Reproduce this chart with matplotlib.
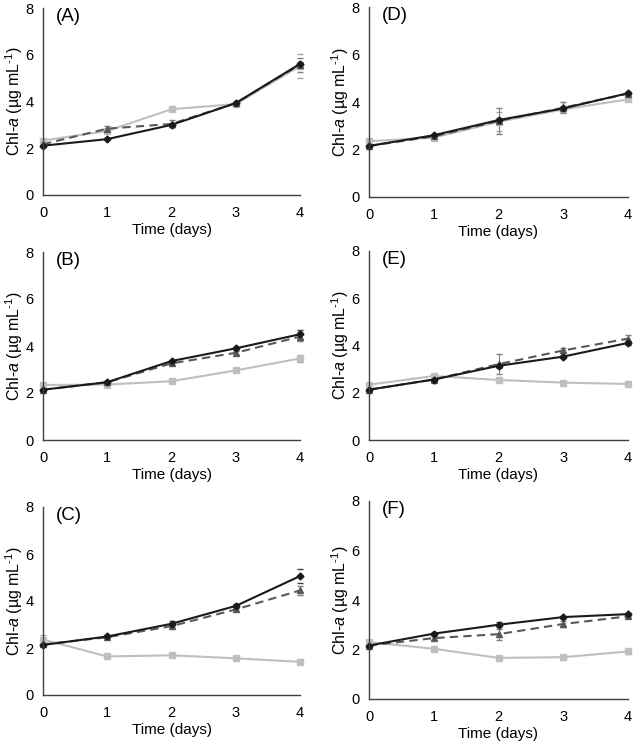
import numpy as np
import matplotlib
matplotlib.use("Agg")
import matplotlib.pyplot as plt

plt.rcParams['font.family'] = ['Liberation Sans', 'DejaVu Sans']
plt.rcParams['mathtext.fontset'] = 'custom'
plt.rcParams['mathtext.rm'] = 'Liberation Sans'
plt.rcParams['mathtext.it'] = 'Liberation Sans:italic'

days = [0, 1, 2, 3, 4]
panel_labels = ['(A)', '(B)', '(C)', '(D)', '(E)', '(F)']

# light gray squares
gray_vals = [
    [2.33, 2.74, 3.67, 3.89, 5.52],
    [2.34, 2.36, 2.50, 2.96, 3.47],
    [2.36, 1.64, 1.69, 1.56, 1.41],
    [2.35, 2.50, 3.17, 3.69, 4.11],
    [2.34, 2.71, 2.54, 2.43, 2.37],
    [2.30, 2.03, 1.66, 1.69, 1.92],
]
gray_err = [
    [0.08, 0.08, 0.06, 0.06, 0.50],
    [0.06, 0.05, 0.05, 0.05, 0.15],
    [0.18, 0.05, 0.05, 0.05, 0.05],
    [0.08, 0.06, 0.40, 0.10, 0.06],
    [0.06, 0.06, 0.08, 0.05, 0.05],
    [0.08, 0.06, 0.06, 0.05, 0.12],
]

# dark gray dashed triangles
dash_vals = [
    [2.17, 2.84, 3.04, 3.93, 5.58],
    [2.14, 2.46, 3.26, 3.71, 4.40],
    [2.15, 2.46, 2.93, 3.64, 4.45],
    [2.15, 2.55, 3.20, 3.76, 4.35],
    [2.13, 2.56, 3.21, 3.79, 4.29],
    [2.16, 2.46, 2.62, 3.03, 3.34],
]
dash_err = [
    [0.06, 0.12, 0.15, 0.06, 0.30],
    [0.05, 0.05, 0.06, 0.08, 0.20],
    [0.05, 0.05, 0.08, 0.08, 0.20],
    [0.05, 0.06, 0.55, 0.22, 0.06],
    [0.05, 0.06, 0.42, 0.12, 0.15],
    [0.05, 0.08, 0.22, 0.12, 0.06],
]

# black solid diamonds
black_vals = [
    [2.11, 2.39, 3.00, 3.93, 5.61],
    [2.14, 2.46, 3.36, 3.90, 4.50],
    [2.13, 2.49, 3.03, 3.79, 5.06],
    [2.15, 2.60, 3.24, 3.73, 4.37],
    [2.13, 2.56, 3.14, 3.53, 4.11],
    [2.16, 2.64, 3.00, 3.31, 3.43],
]
black_err = [
    [0.05, 0.05, 0.10, 0.06, 0.10],
    [0.05, 0.05, 0.05, 0.06, 0.20],
    [0.05, 0.05, 0.10, 0.08, 0.30],
    [0.05, 0.05, 0.08, 0.08, 0.06],
    [0.05, 0.05, 0.08, 0.08, 0.10],
    [0.05, 0.05, 0.10, 0.06, 0.06],
]

W, H = 633, 749
fig = plt.figure(figsize=(W / 100, H / 100), dpi=100)

# axes boxes in pixels: left, right, top(value 8), bottom(value 0)
boxes = [
    (43, 300, 8, 195), (43, 300, 252, 440), (43, 300, 507, 695),
    (369, 628, 7, 197), (369, 628, 251, 440), (369, 628, 501, 699),
]

for i, (l, r, t, b) in enumerate(boxes):
    ax = fig.add_axes([l / W, (H - b) / H, (r - l) / W, (b - t) / H])

    ax.errorbar(days, gray_vals[i], yerr=gray_err[i], color='#bfbfbf', lw=1.5,
                marker='s', ms=5, ecolor='#a6a6a6', elinewidth=0.8, capsize=2)
    ax.errorbar(days, dash_vals[i], yerr=dash_err[i], color='#595959', lw=1.5,
                ls=(0, (4, 2.5)), marker='^', ms=4.5, ecolor='#7f7f7f',
                elinewidth=0.8, capsize=2)
    ax.errorbar(days, black_vals[i], yerr=black_err[i], color='#1a1a1a', lw=1.5,
                marker='D', ms=3.5, ecolor='#404040', elinewidth=0.8, capsize=2)

    ax.set_xlim(0, 4)
    ax.set_ylim(0, 8)
    ax.set_xticks(days)
    ax.set_yticks([0, 2, 4, 6, 8])
    ax.tick_params(length=0, labelsize=10.5, colors='#000000')
    ax.tick_params(axis='x', pad=8)
    ax.tick_params(axis='y', pad=7)
    for side in ['top', 'right']:
        ax.spines[side].set_visible(False)
    for side in ['left', 'bottom']:
        ax.spines[side].set_color('#404040')
        ax.spines[side].set_linewidth(1.0)
    for ln in ax.lines:
        ln.set_clip_on(False)

    ax.set_xlabel('Time (days)', fontsize=11, labelpad=2)
    ax.set_ylabel('Chl-$\\it{a}$ (\u00b5g mL$^{\\mathregular{\u2010}1}$)',
                  fontsize=11.5, labelpad=0)
    ax.text(0.05, 0.955, panel_labels[i], transform=ax.transAxes,
            fontsize=13.5, ha='left', va='center')

fig.savefig('out.png', dpi=100)
